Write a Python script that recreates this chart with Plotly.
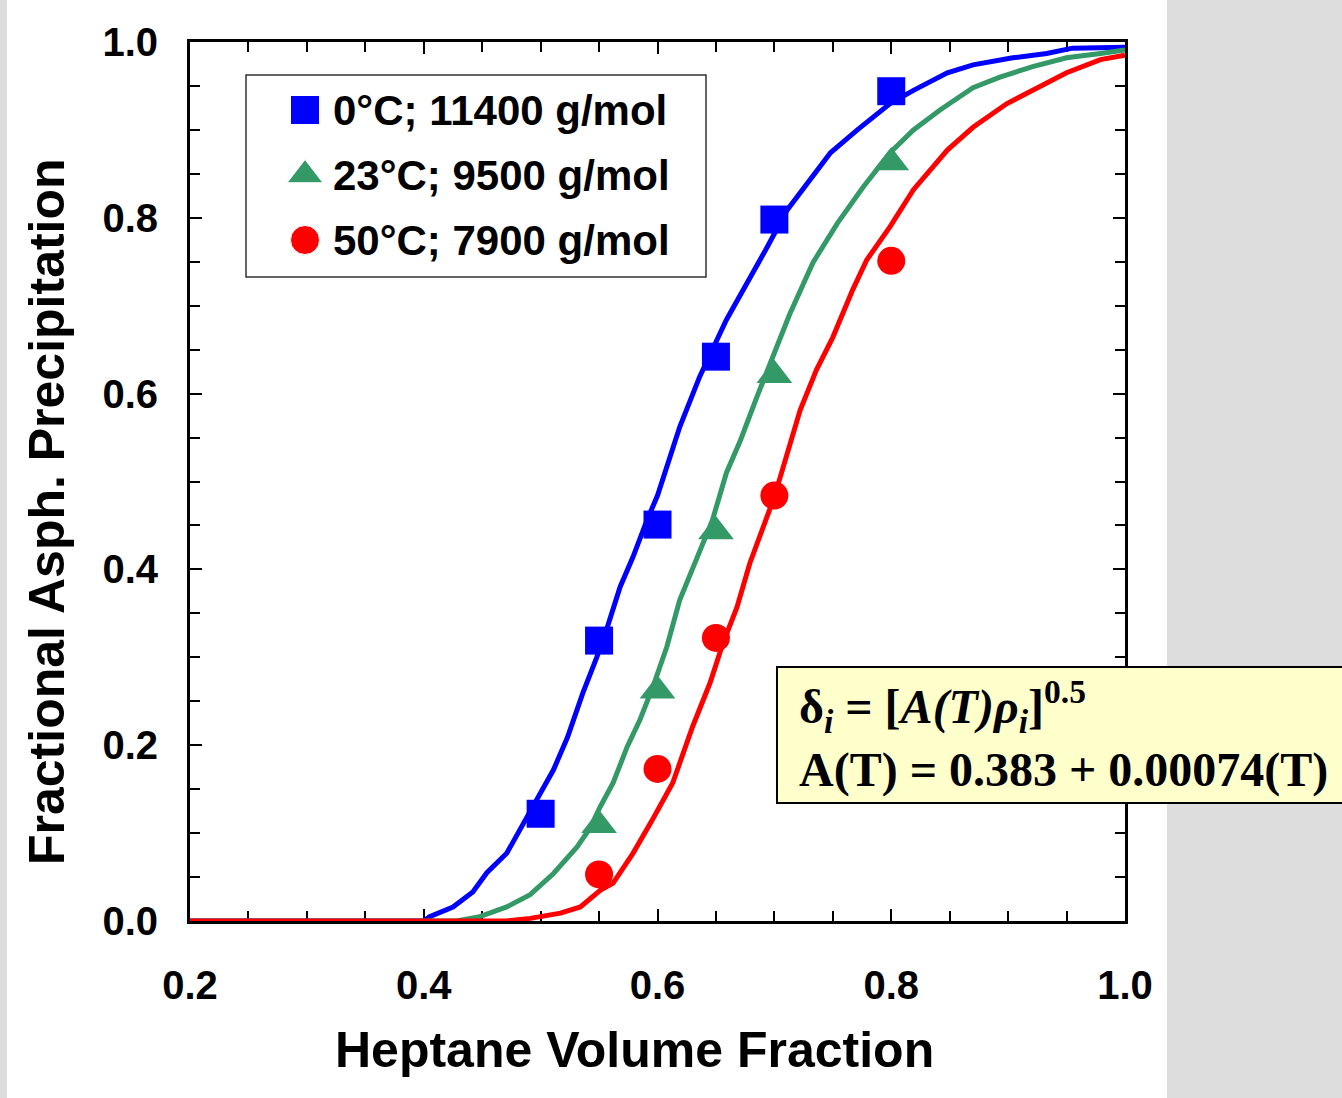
import plotly.graph_objects as go

# Measured precipitation (markers)
x_0c = [0.50, 0.55, 0.60, 0.65, 0.70, 0.80]
y_0c = [0.122, 0.319, 0.451, 0.642, 0.798, 0.944]
x_23c = [0.55, 0.60, 0.65, 0.70, 0.80]
y_23c = [0.109, 0.262, 0.443, 0.621, 0.863]
x_50c = [0.55, 0.60, 0.65, 0.70, 0.80]
y_50c = [0.053, 0.173, 0.322, 0.484, 0.751]

# Model curves
fit_x_0c = [0.19, 0.40, 0.405, 0.425, 0.442, 0.454, 0.471, 0.482, 0.497, 0.511, 0.523,
            0.536, 0.548, 0.557, 0.568, 0.579, 0.591, 0.600, 0.619, 0.636, 0.659, 0.677,
            0.694, 0.711, 0.730, 0.748, 0.771, 0.799, 0.819, 0.848, 0.870, 0.904, 0.933,
            0.955, 1.0]
fit_y_0c = [0.0, 0.0, 0.005, 0.016, 0.033, 0.055, 0.077, 0.103, 0.138, 0.172, 0.209,
            0.259, 0.300, 0.334, 0.380, 0.414, 0.456, 0.484, 0.562, 0.619, 0.684, 0.726,
            0.767, 0.809, 0.843, 0.874, 0.900, 0.930, 0.945, 0.965, 0.974, 0.982, 0.987,
            0.993, 0.994]
fit_x_23c = [0.19, 0.428, 0.448, 0.471, 0.491, 0.511, 0.531, 0.542, 0.551, 0.562, 0.574,
             0.585, 0.596, 0.608, 0.619, 0.633, 0.647, 0.659, 0.671, 0.685, 0.699, 0.713,
             0.733, 0.754, 0.776, 0.799, 0.819, 0.842, 0.870, 0.893, 0.921, 0.950, 0.979,
             1.0]
fit_y_23c = [0.0, 0.0, 0.005, 0.016, 0.030, 0.054, 0.084, 0.105, 0.130, 0.157, 0.198,
             0.229, 0.266, 0.312, 0.365, 0.410, 0.456, 0.510, 0.547, 0.596, 0.642, 0.690,
             0.749, 0.794, 0.835, 0.874, 0.900, 0.923, 0.948, 0.960, 0.972, 0.982, 0.987,
             0.991]
fit_x_50c = [0.19, 0.471, 0.491, 0.517, 0.534, 0.551, 0.562, 0.579, 0.596, 0.613, 0.630,
             0.645, 0.656, 0.668, 0.679, 0.690, 0.699, 0.705, 0.722, 0.736, 0.750, 0.767,
             0.779, 0.799, 0.819, 0.848, 0.870, 0.899, 0.921, 0.950, 0.979, 1.0]
fit_y_50c = [0.0, 0.0, 0.003, 0.009, 0.016, 0.035, 0.043, 0.077, 0.116, 0.157, 0.221,
             0.271, 0.316, 0.357, 0.407, 0.446, 0.479, 0.505, 0.581, 0.627, 0.664, 0.718,
             0.752, 0.790, 0.832, 0.877, 0.903, 0.930, 0.945, 0.965, 0.980, 0.985]

labels = ["0°C; 11400 g/mol", "23°C; 9500 g/mol", "50°C; 7900 g/mol"]
colors = ["#0000ff", "#339966", "#ff0000"]
symbols = ["square", "triangle-up", "circle"]
marker_sizes = [28, 31, 28]
legend_rows = [0, 1, 2]
x_ticks = [0.2, 0.4, 0.6, 0.8, 1.0]
y_ticks = [0.0, 0.2, 0.4, 0.6, 0.8, 1.0]

SANS = "Liberation Sans, Arial, sans-serif"
SERIF = "Liberation Serif, Times New Roman, serif"

fig = go.Figure()

# fitted curves
for fx, fy, c in [(fit_x_0c, fit_y_0c, colors[0]),
                  (fit_x_23c, fit_y_23c, colors[1]),
                  (fit_x_50c, fit_y_50c, colors[2])]:
    fig.add_trace(go.Scatter(x=fx, y=fy, mode="lines",
                             line=dict(color=c, width=5),
                             showlegend=False, hoverinfo="skip"))

# experimental points
for i, (mx, my) in enumerate([(x_0c, y_0c), (x_23c, y_23c), (x_50c, y_50c)]):
    fig.add_trace(go.Scatter(
        x=mx, y=my, mode="markers", name=labels[i], showlegend=False,
        marker=dict(symbol=symbols[i], size=marker_sizes[i], color=colors[i],
                    opacity=1),
        cliponaxis=False))

# legend keys on their own hidden axes (one row per series)
fig.add_trace(go.Scatter(
    x=[0, 0, 0], y=legend_rows, mode="markers", xaxis="x2", yaxis="y2",
    marker=dict(symbol=symbols, size=[29, 31, 29], color=colors, opacity=1),
    showlegend=False, hoverinfo="skip", cliponaxis=False))

axis_common = dict(
    showline=True, linewidth=3, linecolor="black", mirror="ticks",
    ticks="inside", ticklen=12, tickwidth=2, tickcolor="black",
    showgrid=False, zeroline=False, tickformat=".1f",
    tickfont=dict(family=SANS, size=40, color="black", weight="bold"),
    minor=dict(ticks="inside", dtick=0.05, ticklen=10, tickwidth=1.5,
               tickcolor="black", showgrid=False),
    layer="below traces",
)

# legend geometry: row pitch 65 px, first row 68 px below the plot top
row_px = 65.0
rows_span = 879.0 / row_px
top_off = 68.0 / row_px

legend_text = [
    dict(xref="paper", yref="y2", x=(331 - 190) / 935, y=r, text=f"<b>{t}</b>",
         xanchor="left", yanchor="middle", showarrow=False,
         font=dict(family=SANS, size=42, color="black"))
    for r, t in zip(legend_rows, labels)
]

fig.update_layout(
    width=1342, height=1098,
    margin=dict(l=190, r=217, t=42, b=177, autoexpand=False),
    paper_bgcolor="#dddddd", plot_bgcolor="white",
    showlegend=False,
    xaxis=dict(axis_common, range=[0.2, 1.0], tickvals=x_ticks,
               ticklabelstandoff=27),
    yaxis=dict(axis_common, range=[0.0, 1.0], tickvals=y_ticks,
               ticklabelstandoff=21),
    xaxis2=dict(domain=[0, 1], range=[-(305 - 190) / 935, 1 - (305 - 190) / 935],
                anchor="y2", overlaying="x", visible=False, fixedrange=True),
    yaxis2=dict(domain=[0, 1], range=[rows_span - top_off, -top_off],
                anchor="x2", overlaying="y", visible=False, fixedrange=True),
    shapes=[
        # white page behind the chart
        dict(type="rect", xref="paper", yref="paper", layer="below",
             x0=(7 - 190) / 935, x1=(1167 - 190) / 935, y0=-0.3, y1=1.2,
             fillcolor="white", line=dict(width=0)),
        # legend frame
        dict(type="rect", xref="paper", yref="paper", layer="below",
             x0=(246 - 190) / 935, x1=(706 - 190) / 935,
             y0=(921 - 277) / 879, y1=(921 - 75) / 879,
             fillcolor="white", line=dict(color="#333333", width=1.5)),
        # equation box
        dict(type="rect", xref="paper", yref="paper", layer="above",
             x0=0.6278, x1=1.35, y0=0.1342, y1=0.2890,
             fillcolor="#ffffcc", line=dict(color="black", width=2)),
    ],
    annotations=legend_text + [
        dict(xref="paper", yref="paper", x=(634 - 190) / 935, y=(921 - 1050) / 879,
             xanchor="center", yanchor="middle", showarrow=False,
             text="<b>Heptane Volume Fraction</b>",
             font=dict(family=SANS, size=50, color="black")),
        dict(xref="paper", yref="paper", x=(47 - 190) / 935, y=(921 - 512) / 879,
             xanchor="center", yanchor="middle", showarrow=False, textangle=-90,
             text="<b>Fractional Asph. Precipitation</b>",
             font=dict(family=SANS, size=50, color="black")),
        dict(xref="paper", yref="paper", x=(797 - 190) / 935, y=0.2116,
             xanchor="left", yanchor="middle", align="left", showarrow=False,
             text="<b>δ<sub><i>i</i></sub> = [<i>A(T)ρ<sub>i</sub></i>]<sup>0.5</sup>"
                  "<br>A(T) = 0.383 + 0.00074(T)</b>",
             font=dict(family=SERIF, size=48, color="black")),
    ],
)

fig.write_html("out.html")
